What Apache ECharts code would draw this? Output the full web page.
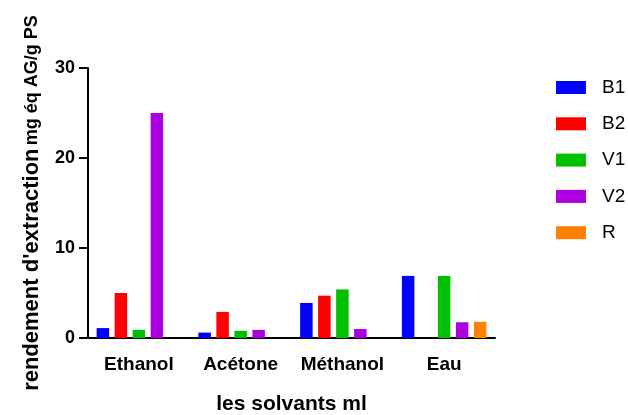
<!DOCTYPE html>
<html>
<head>
<meta charset="utf-8">
<script src="https://cdn.jsdelivr.net/npm/echarts@6/dist/echarts.min.js"></script>
<style>
html,body{margin:0;padding:0;background:#fff;}
#c{width:628px;height:415px;}
</style>
</head>
<body>
<div id="c"></div>
<script>
var categories = ['Ethanol', 'Acétone', 'Méthanol', 'Eau'];
var seriesNames = ['B1', 'B2', 'V1', 'V2', 'R'];
var B1 = [1.1, 0.6, 3.9, 6.9];
var B2 = [5.0, 2.9, 4.7, null];
var V1 = [0.9, 0.8, 5.4, 6.9];
var V2 = [25.0, 0.9, 1.0, 1.75];
var R = [null, null, null, 1.8];
var yTicks = [0, 10, 20, 30];
var colors = ['#0000FF', '#FF0000', '#00C000', '#AC00E0', '#FF8000'];

var values = [B1, B2, V1, V2, R];
var font = 'Liberation Sans, Arial, sans-serif';

var chart = echarts.init(document.getElementById('c'), null, {renderer: 'canvas'});
chart.setOption({
  animation: false,
  backgroundColor: '#ffffff',
  grid: {left: 88, right: 133, top: 68, bottom: 77, containLabel: false, outerBoundsMode: 'none'},
  legend: {
    orient: 'vertical',
    left: 556,
    top: 78,
    padding: 0,
    itemWidth: 30,
    itemHeight: 13,
    itemGap: 17.3,
    icon: 'rect',
    textStyle: {fontFamily: font, fontSize: 19, color: '#000', padding: [0, 0, 0, 11]},
    data: seriesNames
  },
  xAxis: {
    type: 'category',
    data: categories,
    boundaryGap: true,
    name: 'les solvants ml',
    nameLocation: 'middle',
    nameGap: 56,
    nameTextStyle: {fontFamily: font, fontSize: 21, fontWeight: 'bold', color: '#000'},
    axisLine: {lineStyle: {color: '#000', width: 2}},
    axisTick: {alignWithLabel: true, length: 9, lineStyle: {color: '#000', width: 2}},
    axisLabel: {interval: 0, fontFamily: font, fontSize: 19, fontWeight: 'bold', color: '#000', margin: 17}
  },
  yAxis: {
    type: 'value',
    min: yTicks[0],
    max: yTicks[yTicks.length - 1],
    interval: 10,
    name: '{a|rendement d\'extraction} {b|mg éq AG/g PS}',
    nameLocation: 'middle',
    nameGap: 45,
    nameRotate: 90,
    nameTextStyle: {
      rich: {
        a: {fontFamily: font, fontSize: 22, fontWeight: 'bold', color: '#000'},
        b: {fontFamily: font, fontSize: 18, fontWeight: 'bold', color: '#000'}
      }
    },
    splitLine: {show: false},
    axisLine: {show: true, lineStyle: {color: '#000', width: 2}},
    axisTick: {show: true, length: 9, lineStyle: {color: '#000', width: 2}},
    axisLabel: {fontFamily: font, fontSize: 18, fontWeight: 'bold', color: '#000', margin: 13}
  },
  series: seriesNames.map(function (n, i) {
    return {
      name: n,
      type: 'bar',
      data: values[i],
      barWidth: 12.5,
      barGap: '44%',
      itemStyle: {color: colors[i]}
    };
  })
});
</script>
</body>
</html>
